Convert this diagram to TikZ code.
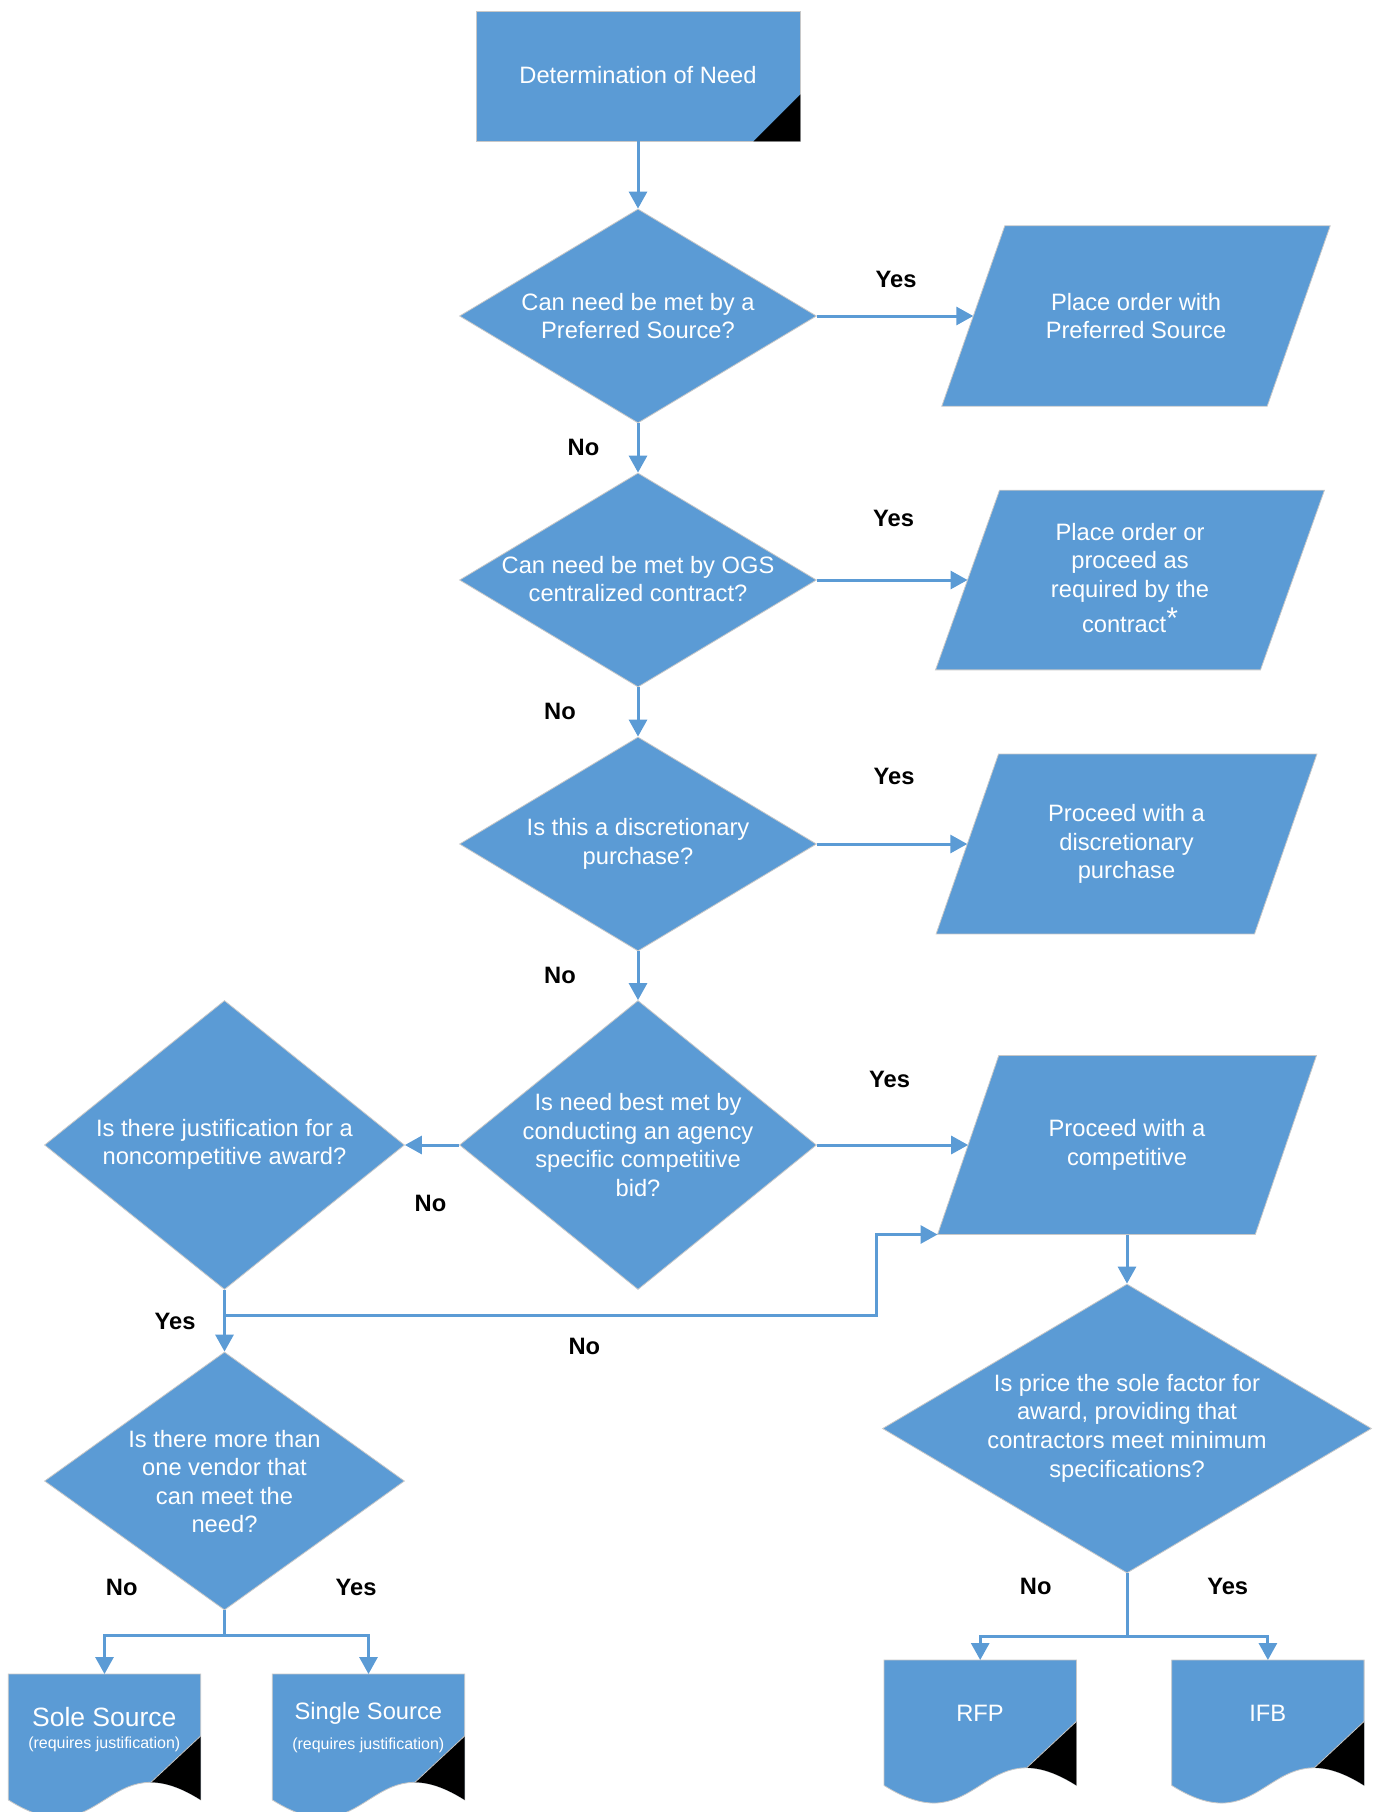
\documentclass[tikz,border=0pt]{standalone}
\usepackage{fontspec}
\setmainfont{Liberation Sans}
\usetikzlibrary{shapes.geometric,arrows.meta,calc}
\definecolor{fcblue}{HTML}{5B9BD5}
\definecolor{fcedge}{HTML}{C8C8C8}
\newcommand{\fcpara}[6]{%
  \node[holder, minimum width=#4pt, minimum height=#5pt] (#1) at (#2,#3) {};
  \filldraw[fill=fcblue, draw=fcedge, line width=0.8pt]
    ($(#1.north west)+(#6/2,0)$) -- ($(#1.north east)+(#6/2,0)$) --
    ($(#1.south east)-(#6/2,0)$) -- ($(#1.south west)-(#6/2,0)$) -- cycle;
}
\newcommand{\fcdoc}[5]{%
  \node[holder, minimum width=#4pt, minimum height=#5pt, anchor=north west] (#1) at (#2,#3) {};
  \filldraw[fill=fcblue, draw=fcedge, line width=0.8pt]
    (#1.north west) -- (#1.north east) -- (#1.south east)
    .. controls ($(#1.south)+(0,-61)$) and ($(#1.south)+(0,61)$) .. (#1.south west) -- cycle;
  \begin{scope}
    \clip (#1.north west) -- (#1.north east) -- (#1.south east)
      .. controls ($(#1.south)+(0,-61)$) and ($(#1.south)+(0,61)$) .. (#1.south west) -- cycle;
    \fill[black] ($(#1.south east)+(0,-64)$) -- ($(#1.south east)+(-90.5,20)$) --
      ($(#1.south east)+(5,20)$) -- ($(#1.south east)+(5,-64)$) -- cycle;
  \end{scope}
  \draw[fcedge, line width=0.8pt] ($(#1.south east)+(0,-64)$) -- ($(#1.south east)+(-49.8,-17.6)$);
}
\begin{document}
\begin{tikzpicture}[x=1pt,y=-1pt,
  conn/.style={draw=fcblue, line width=3pt},
  arr/.style={conn, -{Triangle[length=17pt,width=18pt]}},
  dia/.style={shape=diamond, fill=fcblue, draw=fcedge, line width=0.8pt, inner sep=0pt},
  txt/.style={text=white, align=center, font=\fontsize{23.7}{28.6}\selectfont, inner sep=0pt},
  lab/.style={font=\fontsize{23.7}{28.6}\selectfont\bfseries, inner sep=0pt},
  holder/.style={shape=rectangle, inner sep=0pt},
]
\useasboundingbox (0,0) rectangle (1380,1812);
\fill[white] (0,0) rectangle (1380,1812);
\clip (0,0) rectangle (1380,1812);

% start box
\node[holder, fill=fcblue, draw=fcedge, line width=0.8pt, minimum width=324pt, minimum height=130pt] (det) at (638,76) {};
\fill[black] ($(det.south east)+(0,-47)$) -- ($(det.south east)+(-47,0)$) -- (det.south east) -- cycle;
\node[txt] (dett) at (638,75) {Determination of Need};

% decisions
\node[dia, minimum width=357pt, minimum height=214pt] (d1) at (638,316) {};
\node[txt] (d1t) at (638,316) {Can need be met by a\\Preferred Source?};
\node[dia, minimum width=357pt, minimum height=214pt] (d2) at (638,580) {};
\node[txt] (d2t) at (638,579) {Can need be met by OGS\\centralized contract?};
\node[dia, minimum width=357pt, minimum height=214pt] (d3) at (638,844) {};
\node[txt] (d3t) at (638,844) {Is this a discretionary\\purchase?};
\node[dia, minimum width=357pt, minimum height=289pt] (d4) at (638,1145) {};
\node[txt] (d4t) at (638,1145) {Is need best met by\\conducting an agency\\specific competitive\\bid?};
\node[dia, minimum width=360pt, minimum height=289pt] (l1) at (224.5,1145) {};
\node[txt] (l1t) at (224.5,1144.5) {Is there justification for a\\noncompetitive award?};
\node[dia, minimum width=360pt, minimum height=258pt] (l2) at (224.5,1481) {};
\node[txt] (l2t) at (224.5,1481.5) {Is there more than\\one vendor that\\can meet the\\need?};
\node[dia, minimum width=489pt, minimum height=289pt] (d5) at (1127,1428.5) {};
\node[txt] (d5t) at (1127,1428) {Is price the sole factor for\\award, providing that\\contractors meet minimum\\specifications?};

% parallelograms
\fcpara{p1}{1136}{316}{325}{180}{63}
\node[txt] (p1t) at (1136,316) {Place order with\\Preferred Source};
\fcpara{p2}{1130}{580}{324.5}{179.3}{64}
\node[txt] (p2t) at (1130,578) {Place order or\\proceed as\\required by the\\[5pt]contract\raisebox{4pt}{\fontsize{30}{30}\selectfont *}};
\fcpara{p3}{1126.5}{844}{318}{179.5}{62.4}
\node[txt] (p3t) at (1126.5,844) {Proceed with a\\discretionary\\purchase};
\fcpara{p4}{1127}{1145}{317.3}{178.6}{61.2}
\node[txt] (p4t) at (1127,1145) {Proceed with a\\competitive};

% documents
\fcdoc{sole}{8.3}{1674}{192}{125.5}
\fcdoc{single}{272.3}{1674}{192}{125.5}
\fcdoc{rfp}{884}{1660}{192}{125}
\fcdoc{ifb}{1171.7}{1660}{192}{125}
\node[txt, font=\fontsize{26.5}{30}\selectfont] (solet) at (104.3,1716.7) {Sole Source};
\node[txt, font=\fontsize{16}{19}\selectfont] (soles) at (104.3,1744) {(requires justification)};
\node[txt] (singlet) at (368.3,1713) {Single Source};
\node[txt, font=\fontsize{16}{19}\selectfont] (singles) at (368.3,1745) {(requires justification)};
\node[txt] (rfpt) at (980,1713) {RFP};
\node[txt] (ifbt) at (1267.7,1713) {IFB};

% connectors
\draw[arr] (det.south) -- (d1.north);
\draw[arr] (d1.east) -- (p1.west);
\draw[arr] (d1.south) -- (d2.north);
\draw[arr] (d2.east) -- (p2.west);
\draw[arr] (d2.south) -- (d3.north);
\draw[arr] (d3.east) -- (p3.west);
\draw[arr] (d3.south) -- (d4.north);
\draw[arr] (d4.east) -- (p4.west);
\draw[arr] (d4.west) -- (l1.east);
\draw[arr] (l1.south) -- (l2.north);
\coordinate (jn1) at (224.5,1315.5);
\coordinate (p4bl) at ($(p4.south west)-(30.6,0)$);
\draw[arr] (jn1) -| ($(p4bl)+(-61.5,0)$) -- (p4bl);
\draw[arr] (p4.south) -- (d5.north);
\coordinate (jn2) at (224.5,1635);
\draw[conn] (l2.south) -- (jn2);
\draw[arr] (jn2) -| (sole.north);
\draw[arr] (jn2) -| (single.north);
\coordinate (jn3) at (1127,1636);
\draw[conn] (d5.south) -- (jn3);
\draw[arr] (jn3) -| (rfp.north);
\draw[arr] (jn3) -| (ifb.north);

% labels
\node[lab] (y1) at (896,279) {Yes};
\node[lab] (n1) at (583.5,447) {No};
\node[lab] (y2) at (893.5,518) {Yes};
\node[lab] (n2) at (560,711) {No};
\node[lab] (y3) at (894,776.5) {Yes};
\node[lab] (n3) at (560,975) {No};
\node[lab] (y4) at (889.6,1079) {Yes};
\node[lab] (n4) at (430.5,1203) {No};
\node[lab] (y5) at (175,1321) {Yes};
\node[lab] (n5) at (584.4,1346.5) {No};
\node[lab] (n6) at (121.7,1587) {No};
\node[lab] (y6) at (356,1587) {Yes};
\node[lab] (n7) at (1035.7,1586.7) {No};
\node[lab] (y7) at (1227.7,1586.7) {Yes};
\end{tikzpicture}
\end{document}
